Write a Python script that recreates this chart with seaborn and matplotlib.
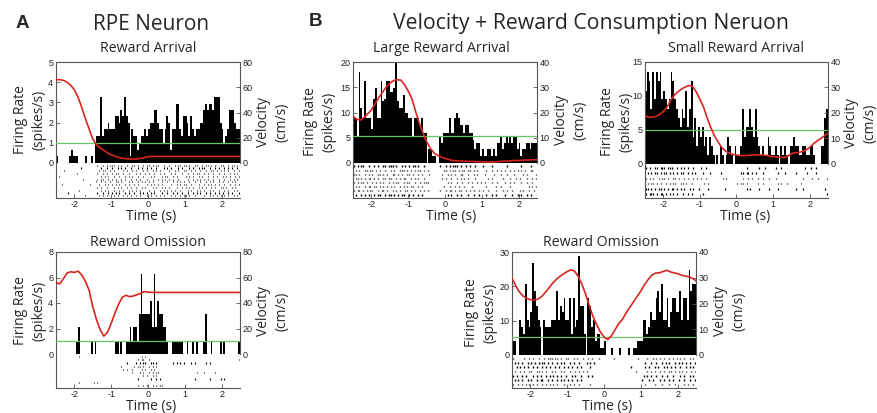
import matplotlib
matplotlib.use("Agg")
import matplotlib.pyplot as plt
import numpy as np
import pandas as pd
import seaborn as sns

sns.set_theme(style="white")
plt.rcParams["font.family"] = ["Liberation Sans", "DejaVu Sans"]
plt.rcParams["axes.unicode_minus"] = False

W, H = 878, 413
LABEL_FONT = ["Open Sans", "DejaVu Sans"]
RED = "#d8261e"
GREEN = "#6cc46a"
SPINE = "#555555"

# 50 ms bins from -2.5 s to 2.5 s, velocity sampled every 100 ms
bin_edges = [round(-2.5 + 0.05 * i, 3) for i in range(101)]
bin_centers = [round(-2.475 + 0.05 * i, 4) for i in range(100)]
vel_times = [round(-2.5 + 0.1 * i, 2) for i in range(51)]
time_ticks = [-2, -1, 0, 1, 2]

# ---------------- RPE neuron: reward arrival ----------------
rpe_arrival_rate = [
    0.33, 0, 0, 0, 0, 0, 0, 0.33, 0.65, 0.33,
    0.33, 0.33, 0, 0, 0, 0, 0.33, 0, 0, 0.33,
    0, 1.0, 1.33, 1.33, 3.27, 1.33, 1.66, 1.66, 2.0, 1.66,
    1.66, 1.66, 2.33, 2.33, 2.0, 2.61, 2.33, 3.27, 2.33, 2.0,
    0.33, 1.66, 1.33, 1.33, 0.65, 1.0, 1.33, 1.33, 1.66, 1.33,
    1.66, 2.0, 2.0, 2.61, 2.61, 2.0, 1.66, 1.66, 1.0, 1.66,
    2.33, 2.0, 0.65, 1.66, 1.66, 2.94, 2.94, 1.66, 1.33, 2.33,
    2.33, 2.0, 1.33, 2.33, 1.66, 1.33, 1.66, 1.66, 2.0, 2.0,
    2.61, 2.94, 2.61, 2.94, 2.94, 2.61, 3.27, 3.27, 3.27, 2.0,
    1.66, 1.0, 1.33, 1.66, 2.61, 2.61, 2.61, 2.0, 1.66, 1.66,
]
rpe_arrival_vel = [
    66, 66, 65.5, 64, 61.5, 58, 52, 44, 35, 27,
    19, 14.5, 12, 10, 8, 6.5, 5.5, 4.5, 3.8, 3.4,
    3.2, 3.1, 3.2, 3.6, 4.3, 5.0, 5.2, 5.2, 5.2, 5.2,
    5.2, 5.2, 5.2, 5.2, 5.2, 5.2, 5.2, 5.2, 5.2, 5.2,
    5.2, 5.2, 5.2, 5.2, 5.2, 5.2, 5.2, 5.2, 5.2, 5.2, 5.2,
]
rpe_arrival_base = 1.0
rpe_arrival_raster = [
    ".......... .......... ..x..x.x.x xx.x.x..x. .xx.x..x.x x.x.xx..x. .x..x.xx.x x.x..xx..x .xx.x.x..x x..x.xx.x.",
    ".......... ...x...... ....x..x.. x..x.x.x.. x...x.x..x .x..x...x. x.x...x.x. ..x.x..x.x x..x..x.x. .x.x.x..x.",
    "....x..... .......... ...x.xx..x .x....x.x. .x.x...x.x ..x.x.x... .x..x.x..x x..x.x..x. .x..xx.x.x .x.x..x..x",
    ".......... .x........ ..x..x.x.. x.xx..x..x ...x.x..x. x..x..x.x. ..x.x...x. .x..x.xx.. x.x..x..x. .x..x.x.x.",
    ".x........ .......... ....x.x.x. .x..x..x.x .x..x..x.. .x.x...x.x x..x.x.... x.x.x..x.x ..x..x.x.. x.x.x..x.x",
    ".......... ....x..... ..x.xx..x. x.x..x.x.. x..x.x...x ..x..x.x.x .x.x..x... .x..x.x.x. x.x..x..x. .x..x.x.x.",
    ".......... .......... .x..x.x..x ..xx.x...x .x..x.x.x. x.x....x.. x..x.x.x.x ..x..x..x. .x.x.x..x. x..x.x.x..",
    "...x...... ........x. ...x..x.x. x.x.x..x.x ..x.x....x .x.x.x.x.. ..x..x.x.x x..x...x.. x.x.x.x.x. .x..x..x.x",
    ".......... .......... ..x.x..x.. .x.x.x..x. x..x..x.x. ..x.x..x.x .x...x..x. x.x.x..x.x .x..x.x..x x.x..x.x..",
    ".......... ..x....... ....x.x.x. .x..x.x..x .x.x.x.... x..x..x.x. x.x.x..x.. .x.x..x.x. x..x.x..x. .x.x..x.x.",
    "......x... .......... ..x..x..x. x.x.x..x.x ..x..x.x.x .x.x...x.. x..x.x..x. .x..x.x.x. .x.x..x.x. x..x.x...x",
    ".......... .....x.... ...x.x.x.. .x.x..x.x. x..x.x...x .x..x.x.x. ..x.x..x.x x.x..x.... x..x.x.x.x .x.x..x.x.",
]

# ---------------- RPE neuron: reward omission ----------------
rpe_omission_rate = [
    0, 0, 0, 0, 0, 0, 0, 0, 0, 0,
    0, 1.04, 2.08, 0, 0, 0, 0, 0, 0, 1.04,
    0, 1.04, 0, 0, 0, 0, 0, 0, 0, 0,
    0, 0, 1.04, 1.04, 0, 1.04, 0, 0, 1.04, 1.04,
    2.08, 1.04, 2.08, 2.08, 1.04, 3.12, 6.24, 3.12, 3.12, 3.12,
    3.12, 4.16, 2.08, 6.24, 2.08, 4.16, 3.12, 3.12, 2.08, 2.08,
    1.04, 0, 0, 1.04, 1.04, 1.04, 1.04, 1.04, 1.04, 0,
    0, 1.04, 0, 0, 1.04, 0, 1.04, 0, 0, 0,
    1.04, 3.12, 0, 0, 1.04, 0, 0, 0, 0, 1.04,
    0, 1.04, 0, 0, 0, 0, 0, 0, 0, 1.04,
]
rpe_omission_vel = [
    56, 55, 59, 63.5, 64.5, 64, 65, 62, 57, 50,
    37, 27, 19, 14, 17, 24, 32, 39, 44.5, 46,
    45, 45.5, 46.5, 47.5, 49, 48.5, 48.3, 48.3, 48.3, 48.3,
    48.3, 48.3, 48.3, 48.3, 48.3, 48.3, 48.3, 48.3, 48.3, 48.3,
    48.3, 48.3, 48.3, 48.3, 48.3, 48.3, 48.3, 48.3, 48.3, 48.3, 48.3,
]
rpe_omission_base = 1.04
rpe_omission_raster = [
    ".......... ..x....... .......... .......... ......x.x. .......... .......... .......... .......... ..........",
    ".......... .......... .......... .......... ....x.xx.. x......... .......... .......... .......... .........x",
    ".......... .......... .......... ........x. ...x.x.xx. .xx.x..... ...x.x.x.x ...x.x.... .x.x...... ..........",
    ".......... .......... .......... .....x.... ..x.xx.x.. x.x.x..... .......... .......... .......... ..........",
    ".......... .......... .......... ......x.x. .x....x.x. .x.x...... .......... .......... .......... ..........",
    ".......... .......... .......... .......... .x...x.x.. x.x.xx.... .......... ......x... x.....x... ..........",
    ".......... .......... .......... .......... .......x.x ..x.x..... .......... .......... .......... ..........",
    ".......... .......... .......... .......... ....x..... .x..x.x... .......... .....x.... ...x.....x .x........",
    ".......... ..x....... x.x....... .......... .......... .......... .......... .......... .......... ..........",
    ".......... .......... .......... .......... ....x..x.x ..x.x.xx.. .......... .......... .......... ..........",
]

# ---------------- Velocity + consumption neuron: large reward ----------------
large_arrival_rate = [
    9.0, 9.0, 5.4, 18.0, 10.8, 9.0, 16.2, 9.0, 9.0, 9.0,
    6.75, 12.6, 14.9, 9.0, 9.0, 16.2, 12.2, 12.6, 16.2, 16.2,
    14.0, 14.0, 14.9, 20.0, 12.2, 10.8, 10.8, 13.5, 10.0, 10.0,
    9.0, 9.0, 5.4, 9.0, 9.0, 9.0, 7.5, 9.0, 6.0, 6.0,
    0, 2.7, 2.7, 1.35, 1.35, 0, 0, 5.4, 4.0, 6.0,
    6.0, 6.0, 8.9, 6.0, 6.0, 8.9, 10.0, 8.9, 7.5, 7.5,
    6.0, 7.5, 7.5, 6.0, 6.0, 4.5, 2.7, 4.0, 4.0, 1.35,
    2.7, 1.35, 1.35, 2.7, 2.7, 1.35, 2.7, 1.35, 4.0, 4.0,
    5.4, 2.7, 4.0, 5.4, 4.0, 5.4, 4.0, 5.4, 5.4, 2.7,
    4.0, 1.35, 2.7, 2.7, 4.0, 4.0, 2.7, 4.0, 4.0, 4.0,
]
large_arrival_vel = [
    18.5, 17.3, 17.0, 18.0, 19.5, 21.0, 23.5, 25.8, 28.0, 30.0,
    31.6, 32.6, 33.0, 32.8, 31.0, 28.5, 25.5, 20.5, 15.8, 12.0,
    8.5, 5.8, 4.0, 3.0, 2.3, 1.8, 1.4, 1.0, 0.9, 0.8,
    0.7, 0.7, 0.6, 0.6, 0.5, 0.5, 0.4, 0.4, 0.4, 0.5,
    0.6, 0.7, 0.8, 0.9, 1.0, 1.0, 1.1, 1.2, 1.2, 1.3, 1.3,
]
large_arrival_base = 5.4
large_arrival_raster = [
    "x.x.xx..x. .x.x..xx.x xx.x..x.x. x.xx.x..x. .......x.. x.x.xxx.x. .x.x..x... x....x.... ...x...... .x....x...",
    ".x.x..xx.x x.x.x..x.. x.x..xxx.x .x.x.xx.x. x........x x.x.xx.x.x x.xx.x.x.. ..x..x..x. x.x..x.x.x .x.x..xx..",
    "xx.x..x.x. x..xx.x.x. .xx.x.x..x x.x..x.x.. .x......x. .x.x.x..xx ..x..x.x.. .x....x... x..x...x.. ..x.x....x",
    ".xx.x.x.xx .x.x..xx.x x..x.x.xx. .x.x.x..x. ........x. x..x..x.x. x.x...x... ...x.x.... .x...x..x. x...x..x.x",
    "x.x.xx.x.. x.x.x.x..x .x.xx..x.x x..x..x.xx x......... .x.x..x..x ..x.x..x.x .x...x..x. ..x..x.x.. .x..x..x..",
    ".x.x..x.xx .xx.x.x.x. x.x..x.x.x .xx..x.x.. .........x ..x..x.x.. x...x..... ..x....x.. x....x.... .....x.x.x",
    "x.xx.x.x.x x..x.xx.x. .x.x.x..xx .x.x..x.x. x......x.. x.xx.x.xx. .x.x.x..x. x..x...x.. .x.x..x... x.x..x..x.",
    ".x..x.x.x. .x.xx..x.x x.x.x.xx.. x.x..x.x.. .......... .x.x..x.x. ..x..x..x. ..x..x.x.. ..x...x..x .x..x.x...",
]

# ---------------- Velocity + consumption neuron: small reward ----------------
small_arrival_rate = [
    10.8, 13.5, 12.2, 8.1, 13.5, 9.5, 13.5, 12.2, 13.5, 9.5,
    10.8, 9.5, 8.1, 9.5, 13.5, 12.2, 9.5, 8.1, 6.75, 5.4,
    8.1, 6.75, 10.8, 5.4, 8.1, 12.2, 4.0, 6.75, 2.7, 5.4,
    4.0, 5.4, 2.7, 4.0, 1.35, 4.0, 2.7, 1.35, 0, 1.35,
    0, 2.7, 1.35, 0, 1.35, 4.0, 2.7, 1.35, 0, 2.7,
    1.35, 1.35, 2.7, 8.1, 4.0, 5.4, 5.4, 8.1, 5.4, 4.0,
    8.1, 4.0, 2.7, 1.35, 2.7, 1.35, 1.35, 4.0, 2.7, 1.35,
    1.35, 2.7, 1.35, 0, 2.7, 1.35, 2.7, 1.35, 0, 2.7,
    2.7, 4.0, 2.7, 2.7, 1.35, 1.35, 2.7, 2.7, 1.35, 1.35,
    2.7, 2.7, 1.35, 0, 0, 0, 2.7, 2.7, 6.75, 8.1,
]
small_arrival_vel = [
    19.0, 18.3, 18.4, 18.7, 19.4, 20.6, 22.2, 25.0, 27.0, 28.3,
    29.4, 30.2, 30.8, 30.4, 28.3, 25.4, 22.3, 18.0, 14.2, 11.0,
    8.6, 6.4, 5.1, 4.3, 3.8, 3.5, 3.3, 3.2, 3.4, 3.5,
    3.6, 3.6, 3.5, 3.4, 3.1, 2.9, 2.8, 2.6, 2.5, 3.1,
    4.0, 4.4, 4.5, 4.9, 5.5, 6.5, 7.9, 9.0, 10.0, 11.0, 12.1,
]
small_arrival_base = 5.0
small_arrival_raster = [
    "x.x..xx.xx x.xxx..x.x .x.x..x... x..x...... .......... .....x.... ..x..x.... .x..x..... .......x.. x..x......",
    ".x.x.xx.x. xx.x.x.x.x x..x.x.x.. .x...x.... .x........ ..xx.xx.x. x...x..... ..x...x... ..x.....x. ...x......",
    "x.x.x..x.x x.x..xx.x. .x.x..x.x. x..x...... ..x.x..... ...x..x.x. .x..x..x.. .x........ ......x... .x..x....x",
    ".x.xx.x.x. .x.x.xx..x x.x..x.... ..x.x..... .......... x.xx.x.... .x..x..... ..x.x..x.. .....x.... ..........",
    "xx.x.x.xx. x.x.xx.x.x .x..x.x..x ....x..... ...x...... .....x.x.. ..x....x.. ..x....... ..x...x... ........x.",
    "x.xxx.x.xx .x.x.x.x.. x..x.x.... .x........ .......... .......... .......... .......... .......... .........x",
]

# ---------------- Velocity + consumption neuron: omission ----------------
vc_omission_rate = [
    4.1, 4.1, 0, 0, 10.3, 8.2, 6.2, 20.6, 10.3, 8.2,
    12.4, 26.8, 18.5, 14.4, 10.3, 8.2, 0, 10.3, 8.2, 8.2,
    8.2, 10.3, 10.3, 10.3, 18.5, 10.3, 14.4, 12.4, 16.5, 10.3,
    10.3, 16.5, 6.2, 16.5, 8.2, 10.3, 28.8, 14.4, 14.4, 6.2,
    0, 16.5, 14.4, 8.2, 10.3, 4.1, 6.2, 6.2, 2.1, 2.1,
    4.1, 0, 0, 0, 2.1, 0, 0, 0, 2.1, 0,
    0, 0, 0, 2.1, 0, 0, 2.1, 2.1, 4.1, 4.1,
    4.1, 10.3, 10.3, 6.2, 8.2, 12.4, 10.3, 10.3, 16.5, 18.5,
    12.4, 20.6, 10.3, 10.3, 16.5, 8.2, 12.4, 16.5, 16.5, 12.4,
    12.4, 18.5, 10.3, 16.5, 16.5, 10.3, 24.7, 18.5, 20.6, 20.6,
]
vc_omission_vel = [
    29.7, 27.0, 24.5, 22.9, 22.0, 21.5, 21.3, 21.7, 22.6, 24.2,
    26.0, 27.8, 29.3, 30.5, 31.5, 32.4, 33.1, 32.6, 30.5, 27.5,
    23.6, 19.2, 15.0, 11.8, 9.0, 7.0, 6.0, 7.4, 9.8, 12.2,
    13.8, 16.3, 18.5, 20.6, 22.8, 24.8, 27.3, 29.3, 31.0, 31.8,
    31.9, 32.4, 32.9, 32.3, 31.9, 31.6, 31.0, 30.7, 30.4, 29.8, 28.8,
]
vc_omission_base = 5.1
vc_omission_raster = [
    "x.....x..x .x..x..x.x xx.xx.x..x x..x.x..x. .x.x...x.. .....x.... ........x. ...x..x.x. x.x..x.x.x .x.x..x.x.",
    ".x.x.x..x. x.x.x.xx.x .x..x.x.x. .x.x..x... x.x.x..... .......... .......... ..x..x..x. .x.x.x..x. x.x.x.x..x",
    "..x.x.x.x. .x.x..x.x. x..x.x..x. x.x..x.x.. ..x....... .......... ....x..... ..x.x..x.x ..x.x.x.x. .x..x.x.x.",
    ".x..x.x..x x..xx.x.x. .x.x..x.x. .x..x.x.x. x......... .......... .......x.. ...x.x.x.. x.x..xx.x. x.x.x..x.x",
    "x.x..x.x.. .x.x.x..x. x.x.x.x..x ..x.x..x.. .x.x...... .......... .......... .x.x.x..x. .x..x..x.. .x.x..x.x.",
    ".x.x.x..x. x..x.xx..x .x..x.x.x. x.x..x.x.. .......... .......... .......... x...x.x... x.x..x.x.. x..x..x..x",
    "x..x.x.x.x .x.x..x.x. x.x.x...x. .x.x..x... ..x....... .......... .......... ..x....x.. .x...x..x. ...x.x..x.",
]


def px_axes(fig, x0, y0, x1, y1):
    """Axes from pixel box (left, top, right, bottom)."""
    return fig.add_axes([x0 / W, 1 - y1 / H, (x1 - x0) / W, (y1 - y0) / H])


def ftext(fig, x, y, s, **kw):
    kw.setdefault("ha", "center")
    kw.setdefault("va", "center")
    fig.text(x / W, 1 - y / H, s, **kw)


def raster_positions(rows):
    out = []
    for r in rows:
        r = "".join(r.split()).ljust(100, ".")[:100]
        out.append([bin_centers[i] for i, ch in enumerate(r) if ch == "x"])
    return out


def style_ticks(ax, pad=2, **kw):
    ax.tick_params(direction="in", length=3, width=0.6, color=SPINE,
                   labelcolor="#222222", labelsize=6.5, pad=pad, **kw)


def draw_panel(fig, box, rates, ymax, yticks, vel, vmax, vticks, base, rows,
               mark_len, mark_w):
    x0, top, x1, zero, bottom = box

    # firing-rate histogram
    ax = px_axes(fig, x0, top, x1, zero)
    hist_df = pd.DataFrame({"time": bin_centers, "rate": rates})
    sns.histplot(data=hist_df, x="time", weights="rate", bins=bin_edges, ax=ax,
                 color="black", edgecolor="none", linewidth=0, alpha=1.0,
                 fill=True, stat="count")
    ax.axhline(base, color=GREEN, lw=0.9, zorder=4)
    ax.set_xlim(-2.5, 2.5)
    ax.set_ylim(0, ymax)
    ax.set_yticks(yticks)
    ax.set_xticks([])
    ax.set_xlabel("")
    ax.set_ylabel("")
    for side in ("bottom", "right"):
        ax.spines[side].set_visible(False)
    for side in ("left", "top"):
        ax.spines[side].set_color(SPINE)
        ax.spines[side].set_linewidth(0.8)
    style_ticks(ax, left=True)

    # running velocity on the right axis
    ax2 = ax.twinx()
    vel_df = pd.DataFrame({"time": vel_times, "velocity": vel})
    sns.lineplot(data=vel_df, x="time", y="velocity", ax=ax2, color=RED, lw=1.2)
    ax2.set_xlim(-2.5, 2.5)
    ax2.set_ylim(0, vmax)
    ax2.set_yticks(vticks)
    ax2.set_ylabel("")
    ax2.set_xlabel("")
    for side in ("bottom", "left", "top"):
        ax2.spines[side].set_visible(False)
    ax2.spines["right"].set_color(SPINE)
    ax2.spines["right"].set_linewidth(0.8)
    style_ticks(ax2, right=True)

    # spike raster below the histogram
    rax = px_axes(fig, x0, zero, x1, bottom)
    pos = raster_positions(rows)
    n = len(pos)
    rax.eventplot(pos, lineoffsets=np.arange(1, n + 1), linelengths=mark_len,
                  colors="black", linewidths=mark_w)
    rax.set_xlim(-2.5, 2.5)
    rax.set_ylim(n + 0.8, 0.2)
    rax.set_yticks([])
    rax.set_xticks(time_ticks)
    rax.set_xticklabels([str(t) for t in time_ticks])
    for side in ("top", "right"):
        rax.spines[side].set_visible(False)
    for side in ("left", "bottom"):
        rax.spines[side].set_color(SPINE)
        rax.spines[side].set_linewidth(0.8)
    style_ticks(rax, pad=1.2, bottom=True)


fig = plt.figure(figsize=(W / 100, H / 100), dpi=100)

draw_panel(fig, (56, 62, 240, 163, 198), rpe_arrival_rate, 5, [0, 1, 2, 3, 4, 5],
           rpe_arrival_vel, 80, [0, 20, 40, 60, 80], rpe_arrival_base,
           rpe_arrival_raster, 0.4, 0.8)
draw_panel(fig, (56, 252, 240, 354, 388), rpe_omission_rate, 8, [0, 2, 4, 6, 8],
           rpe_omission_vel, 80, [0, 20, 40, 60, 80], rpe_omission_base,
           rpe_omission_raster, 0.35, 0.8)
draw_panel(fig, (353, 62, 537, 163, 198), large_arrival_rate, 20, [0, 5, 10, 15, 20],
           large_arrival_vel, 40, [0, 10, 20, 30, 40], large_arrival_base,
           large_arrival_raster, 0.4, 1.0)
draw_panel(fig, (645, 62, 828, 164, 198), small_arrival_rate, 15, [0, 5, 10, 15],
           small_arrival_vel, 40, [0, 10, 20, 30, 40], small_arrival_base,
           small_arrival_raster, 0.35, 0.9)
draw_panel(fig, (512, 252, 696, 355, 388), vc_omission_rate, 30, [0, 10, 20, 30],
           vc_omission_vel, 40, [0, 10, 20, 30, 40], vc_omission_base,
           vc_omission_raster, 0.35, 1.0)

# headings
ftext(fig, 22, 23, "A", fontsize=13.5, fontweight="bold")
ftext(fig, 316, 22, "B", fontsize=13.5, fontweight="bold")
ftext(fig, 151, 25, "RPE Neuron", fontsize=15, family=LABEL_FONT)
ftext(fig, 591, 24, "Velocity + Reward Consumption Neruon", fontsize=15.3, family=LABEL_FONT)

for x, y, s in [(148, 48, "Reward Arrival"), (148, 242, "Reward Omission"),
                (441, 48, "Large Reward Arrival"), (736, 48, "Small Reward Arrival"),
                (601, 242, "Reward Omission")]:
    ftext(fig, x, y, s, fontsize=10.2, family=LABEL_FONT)

# axis labels
for x, y in [(30, 120), (30, 311), (320, 122), (617, 122), (481, 313)]:
    ftext(fig, x, y, "Firing Rate\n(spikes/s)", fontsize=10, rotation=90,
          linespacing=1.35, family=LABEL_FONT)
for x, y in [(273, 122), (273, 311), (571, 120), (861, 123), (730, 311)]:
    ftext(fig, x, y, "Velocity\n(cm/s)", fontsize=10, rotation=90,
          linespacing=1.35, family=LABEL_FONT)
for x, y in [(151, 220), (151, 410), (451, 220), (745, 220), (607, 410)]:
    ftext(fig, x, y, "Time (s)", fontsize=10, family=LABEL_FONT, va="baseline")

fig.savefig("out.png", dpi=100)
